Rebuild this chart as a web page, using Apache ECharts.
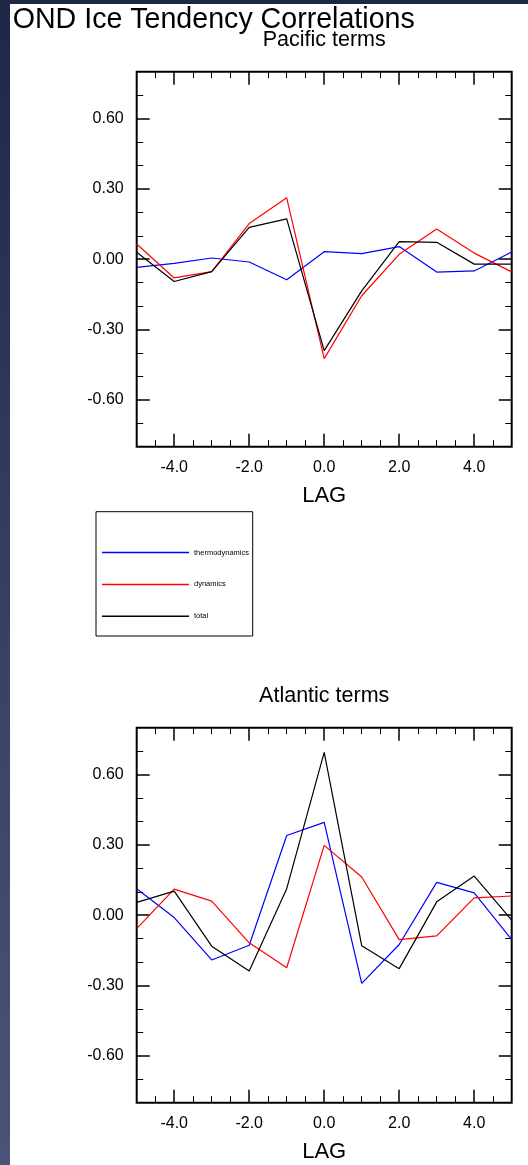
<!DOCTYPE html>
<html>
<head>
<meta charset="utf-8">
<script src="https://cdn.jsdelivr.net/npm/echarts@6/dist/echarts.min.js"></script>
<style>
  html, body { margin: 0; padding: 0; width: 528px; height: 1165px; overflow: hidden;
    background: linear-gradient(to bottom, #1d2747 0%, #363f62 50%, #4b5478 100%); }
  #sheet { position: absolute; left: 10px; top: 4px; right: 0; bottom: 0; background: #fff; }
  #chart { position: absolute; left: 0; top: 0; width: 528px; height: 1165px; }
</style>
</head>
<body>
<div id="sheet"></div>
<div id="chart"></div>
<script>
// Lag (years) and correlation values for each basin and term
const lags = [-5, -4, -3, -2, -1, 0, 1, 2, 3, 4, 5];

const pacificThermo = [-0.035, -0.018, 0.005, -0.012, -0.088, 0.032, 0.024, 0.054, -0.055, -0.050, 0.031];
const pacificDyn    = [0.065, -0.080, -0.053, 0.152, 0.262, -0.424, -0.156, 0.021, 0.129, 0.026, -0.054];
const pacificTotal  = [0.030, -0.095, -0.053, 0.136, 0.172, -0.390, -0.135, 0.075, 0.072, -0.021, -0.021];

const atlanticThermo = [0.113, -0.010, -0.191, -0.128, 0.340, 0.396, -0.291, -0.125, 0.140, 0.095, -0.104];
const atlanticDyn    = [-0.057, 0.111, 0.060, -0.118, -0.224, 0.298, 0.163, -0.104, -0.088, 0.074, 0.082];
const atlanticTotal  = [0.055, 0.103, -0.132, -0.238, 0.113, 0.695, -0.130, -0.228, 0.057, 0.167, -0.021];

// Tick values
const majorLagTicks = [-4, -2, 0, 2, 4];
const minorLagTicks = [-4.5, -3.5, -3, -2.5, -1.5, -1, -0.5, 0.5, 1, 1.5, 2.5, 3, 3.5, 4.5];
const majorCorrTicks = [-0.6, -0.3, 0, 0.3, 0.6];
const minorCorrTicks = [-0.7, -0.5, -0.4, -0.2, -0.1, 0.1, 0.2, 0.4, 0.5, 0.7];

const termNames = ['thermodynamics', 'dynamics', 'total'];
const termColors = ['#0000ff', '#ff0000', '#000000'];

const panels = [
  { title: 'Pacific terms', series: [pacificThermo, pacificDyn, pacificTotal] },
  { title: 'Atlantic terms', series: [atlanticThermo, atlanticDyn, atlanticTotal] }
];

const FONT = 'Liberation Sans, Arial, Helvetica, sans-serif';
const PLOT_LEFT = 136.7, PLOT_SIZE = 375;
const PLOT_TOPS = [71.7, 727.7];

function tickAxis(common, position, ticks, len, width, label) {
  return Object.assign({}, common, {
    position: position,
    axisLine: { show: false, onZero: false },
    splitLine: { show: false },
    axisTick: { show: true, inside: true, length: len, customValues: ticks,
      lineStyle: { color: '#000', width: width } },
    axisLabel: label ? Object.assign({ show: true, customValues: ticks }, label) : { show: false }
  });
}

const grids = [], xAxes = [], yAxes = [], series = [], graphics = [];

panels.forEach(function (p, g) {
  grids.push({ left: PLOT_LEFT, top: PLOT_TOPS[g], width: PLOT_SIZE, height: PLOT_SIZE,
    show: true, borderColor: '#000', borderWidth: 2, backgroundColor: 'transparent' });

  const xc = { type: 'value', gridIndex: g, min: -5, max: 5 };
  const yc = { type: 'value', gridIndex: g, min: -0.8, max: 0.8 };

  const xMain = tickAxis(xc, 'bottom', majorLagTicks, 13, 1.5, {
    margin: 13, fontSize: 16, color: '#000', fontFamily: FONT,
    formatter: function (v) { return Number(v).toFixed(1); }
  });
  xMain.name = 'LAG';
  xMain.nameLocation = 'middle';
  xMain.nameGap = 38;
  xMain.nameTextStyle = { fontSize: 22, color: '#000', fontFamily: FONT };
  xAxes.push(xMain);
  xAxes.push(tickAxis(xc, 'bottom', minorLagTicks, 6.5, 1));
  xAxes.push(tickAxis(xc, 'top', majorLagTicks, 13, 1.5));
  xAxes.push(tickAxis(xc, 'top', minorLagTicks, 6.5, 1));

  yAxes.push(tickAxis(yc, 'left', majorCorrTicks, 13, 1.5, {
    margin: 13, fontSize: 16, color: '#000', fontFamily: FONT,
    formatter: function (v) { return Number(v).toFixed(2); }
  }));
  yAxes.push(tickAxis(yc, 'left', minorCorrTicks, 6.5, 1));
  yAxes.push(tickAxis(yc, 'right', majorCorrTicks, 13, 1.5));
  yAxes.push(tickAxis(yc, 'right', minorCorrTicks, 6.5, 1));

  p.series.forEach(function (vals, k) {
    series.push({
      type: 'line', name: termNames[k], xAxisIndex: 4 * g, yAxisIndex: 4 * g,
      data: lags.map(function (x, i) { return [x, vals[i]]; }),
      symbol: 'none', color: termColors[k],
      lineStyle: { width: 1.2, color: termColors[k] }
    });
  });

  graphics.push({ type: 'text', x: PLOT_LEFT + PLOT_SIZE / 2, y: PLOT_TOPS[g] - 31.7,
    style: { text: p.title, fontSize: 21.5, fontFamily: FONT, fill: '#000',
      align: 'center', verticalAlign: 'middle' } });
});

graphics.push({ type: 'text', x: 12.7, y: 20.2,
  style: { text: 'OND Ice Tendency Correlations', fontSize: 28.6, fontFamily: FONT, fill: '#000',
    align: 'left', verticalAlign: 'middle' } });

// Frame around the legend
graphics.push({ type: 'rect', shape: { x: 96, y: 511.7, width: 156.7, height: 124.3 },
  style: { fill: 'none', stroke: '#000', lineWidth: 1 }, z: -1 });

const chart = echarts.init(document.getElementById('chart'), null, { renderer: 'canvas' });
chart.setOption({
  animation: false,
  backgroundColor: 'transparent',
  grid: grids,
  xAxis: xAxes,
  yAxis: yAxes,
  series: series,
  legend: {
    data: termNames, orient: 'vertical', left: 102, top: 548.5, padding: 0,
    icon: 'rect', itemWidth: 87, itemHeight: 1.5, itemGap: 23.9,
    textStyle: { fontSize: 7.5, color: '#000', fontFamily: FONT }
  },
  graphic: graphics
});
</script>
</body>
</html>
